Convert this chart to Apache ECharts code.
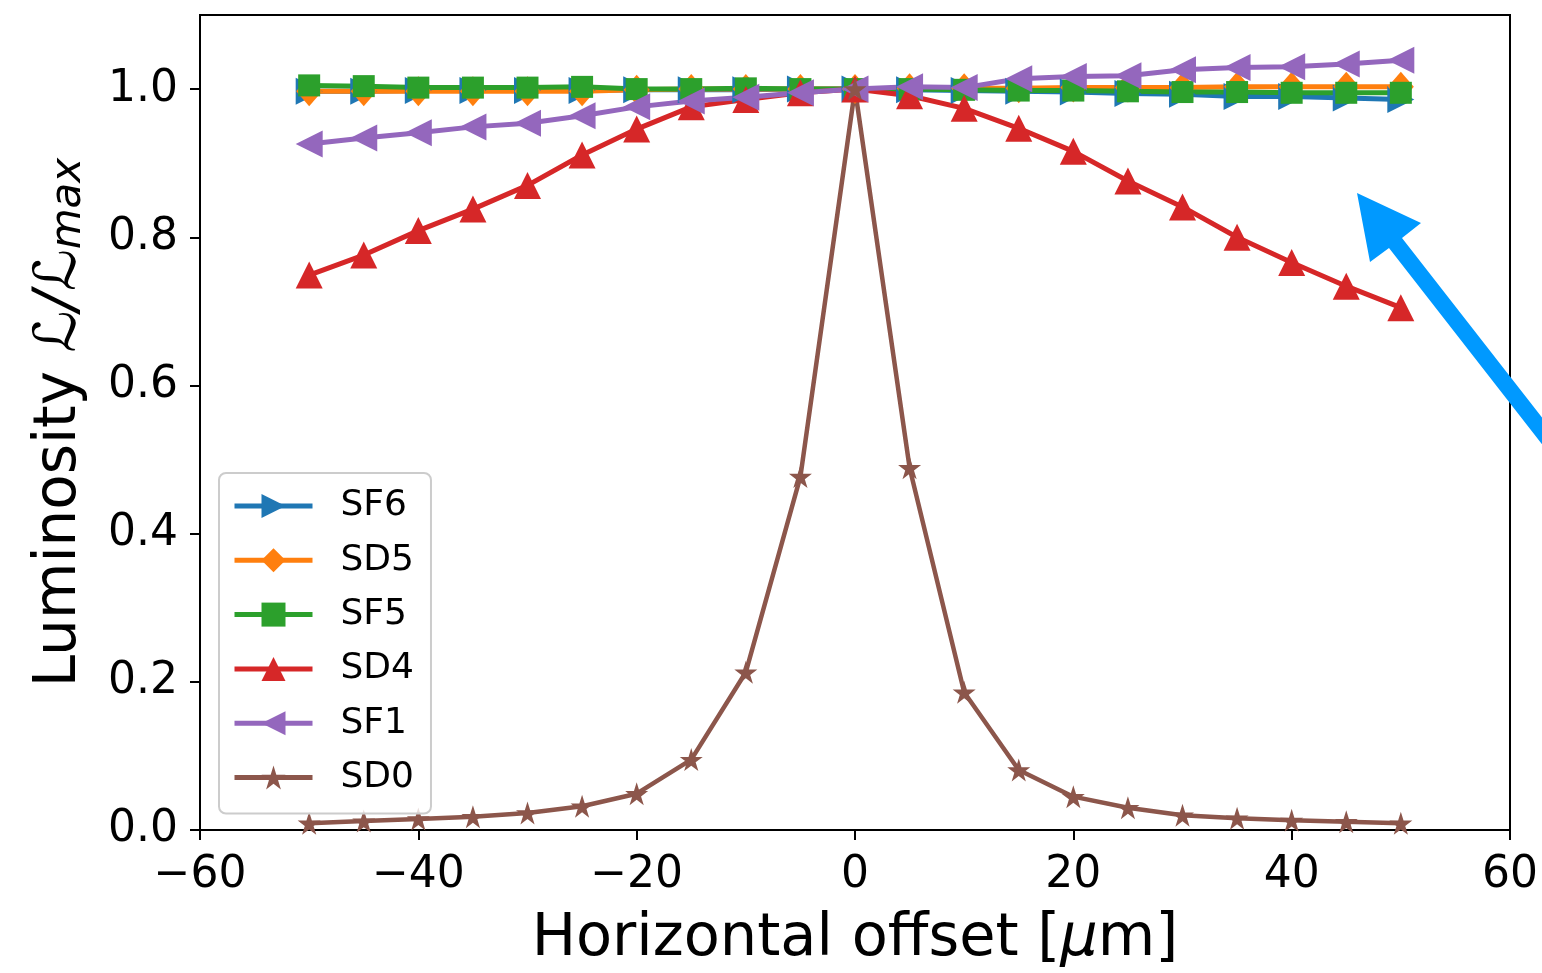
<!DOCTYPE html>
<html>
<head>
<meta charset="utf-8">
<script src="https://cdn.jsdelivr.net/npm/echarts@6/dist/echarts.min.js"></script>
<style>
html,body{margin:0;padding:0;background:#fff;}
#chart{width:1542px;height:973px;}
</style>
</head>
<body>
<div id="chart"></div>
<script>
// ---- data ----
const offsets = [-50,-45,-40,-35,-30,-25,-20,-15,-10,-5,0,5,10,15,20,25,30,35,40,45,50];
const SF6 = [0.997,0.997,0.998,0.998,0.998,0.998,0.999,0.999,0.999,1.0,1.0,0.999,0.998,0.997,0.996,0.994,0.993,0.990,0.990,0.988,0.986];
const SD5 = [0.997,0.997,0.997,0.997,0.997,0.997,0.999,1.0,1.0,1.0,1.0,1.001,1.001,1.001,1.002,1.002,1.002,1.003,1.003,1.003,1.003];
const SF5 = [1.005,1.004,1.002,1.002,1.002,1.003,1.0,1.0,1.001,1.0,1.0,1.0,0.999,0.998,0.998,0.997,0.996,0.996,0.995,0.995,0.995];
const SD4 = [0.749,0.776,0.809,0.838,0.870,0.911,0.946,0.976,0.986,0.995,1.0,0.991,0.974,0.947,0.916,0.876,0.841,0.800,0.766,0.734,0.705];
const SF1 = [0.926,0.934,0.941,0.949,0.954,0.964,0.976,0.984,0.989,0.995,1.0,1.003,1.002,1.014,1.017,1.018,1.026,1.029,1.030,1.034,1.039];
const SD0 = [0.009,0.012,0.015,0.018,0.023,0.032,0.049,0.095,0.213,0.477,1.0,0.489,0.186,0.081,0.045,0.030,0.020,0.016,0.013,0.011,0.009];
const seriesNames = ['SF6','SD5','SF5','SD4','SF1','SD0'];
const xTicks = [-60,-40,-20,0,20,40,60];
const yTicks = [0.0,0.2,0.4,0.6,0.8,1.0];

const FONT = 'DejaVu Sans';
const colors = ['#1f77b4','#ff7f0e','#2ca02c','#d62728','#9467bd','#8c564b'];
const star = 'path://M50,0 L61.2,34.5 L97.6,34.5 L68.2,55.9 L79.4,90.5 L50,69.1 L20.6,90.5 L31.8,55.9 L2.4,34.5 L38.8,34.5 Z';
const values = [SF6,SD5,SF5,SD4,SF1,SD0];
const symbols = [
  {symbol:'triangle', size:27, rotate:-90},
  {symbol:'diamond', size:[26,30], rotate:0},
  {symbol:'rect', size:22, rotate:0},
  {symbol:'triangle', size:27, rotate:0},
  {symbol:'triangle', size:27, rotate:90},
  {symbol:star, size:23, rotate:0}
];

const series = seriesNames.map((n,i)=>({
  name:n, type:'line',
  data: offsets.map((x,j)=>[x, values[i][j]]),
  symbol: symbols[i].symbol, symbolSize: symbols[i].size, symbolRotate: symbols[i].rotate,
  showAllSymbol:true,
  lineStyle:{color:colors[i], width: i===5?4.5:5},
  itemStyle:{color:colors[i], borderWidth:0},
  emphasis:{disabled:true},
  animation:false
}));

// annotation arrow (drawn in pixel space, not data)
const arrow = {
  type:'polygon', z:100,
  shape:{points:[[1357,193],[1421,223],[1402,238],[1586,474],[1573,484],[1389,248],[1370,262]]},
  style:{fill:'#0099ff'}
};

const chart = echarts.init(document.getElementById('chart'), null, {renderer:'canvas'});
chart.setOption({
  animation:false,
  backgroundColor:'#fff',
  textStyle:{fontFamily:FONT},
  grid:{left:200, right:32, top:15, bottom:143, show:true, borderColor:'#000', borderWidth:2,
        backgroundColor:'transparent', containLabel:false, outerBoundsMode:'none'},
  xAxis:{
    type:'value', min:-60, max:60, interval:20,
    name:'Horizontal offset [{i|μ}m]', nameLocation:'middle', nameGap:80,
    nameTextStyle:{fontSize:59, color:'#000', fontFamily:FONT,
      rich:{i:{fontSize:59, fontStyle:'italic', color:'#000', fontFamily:FONT}}},
    axisLine:{show:true, onZero:false, lineStyle:{color:'#000', width:2}},
    axisTick:{show:true, inside:false, length:10, lineStyle:{color:'#000', width:2}, customValues:xTicks},
    axisLabel:{fontSize:44, color:'#000', margin:24, fontFamily:FONT, customValues:xTicks,
      formatter:v=>String(v).replace('-','\u2212')},
    splitLine:{show:false}
  },
  yAxis:{
    type:'value', min:0, max:1.1, interval:0.2,
    name:'Luminosity {i|ℒ/ℒ}{s|max}', nameLocation:'middle', nameGap:110,
    nameTextStyle:{fontSize:58, color:'#000', fontFamily:FONT,
      rich:{
        i:{fontSize:58, fontStyle:'italic', color:'#000', fontFamily:FONT},
        s:{fontSize:42, fontStyle:'italic', color:'#000', fontFamily:FONT, padding:[18,0,0,0]}
      }},
    axisLine:{show:true, onZero:false, lineStyle:{color:'#000', width:2}},
    axisTick:{show:true, inside:false, length:10, lineStyle:{color:'#000', width:2}, customValues:yTicks},
    axisLabel:{fontSize:44, color:'#000', margin:22, fontFamily:FONT, customValues:yTicks,
      formatter:v=>v.toFixed(1)},
    splitLine:{show:false}
  },
  legend:{
    orient:'vertical', left:219, top:473,
    padding:[15,17,18,13],
    itemWidth:78, itemHeight:30, itemGap:18.3,
    backgroundColor:'rgba(255,255,255,0.8)', borderColor:'#cccccc', borderWidth:2, borderRadius:7,
    lineStyle:{width:5},
    textStyle:{fontSize:36, lineHeight:30, color:'#000', fontFamily:FONT, padding:[0,0,0,23]},
    data:seriesNames
  },
  graphic:[arrow],
  series:series
});
</script>
</body>
</html>
